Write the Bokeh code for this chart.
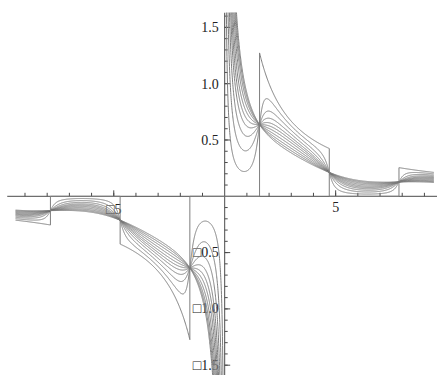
import numpy as np
from bokeh.plotting import figure
from bokeh.models import Range1d
from bokeh.embed import file_html
from bokeh.resources import INLINE
from bokeh.core.properties import value

# ---- values ----
# sharpness of each smoothed approximation (sharpest first), matched to the curve minima
sharpness = [5.0, 2.5, 1.67, 1.25, 1.0, 0.8, 0.62, 0.47, 0.35, 0.25]
# jumps of the limit function (pi/2, 3pi/2, 5pi/2) and end of the plotted domain (3pi)
jump_x = [1.5708, 4.7124, 7.8540]
domain_end = 9.4248
limit_factor = 2.0          # the limit is 2/x on the "on" intervals, 0 elsewhere
x_minor_ticks = [-9, -8, -7, -6, -5, -4, -3, -2, -1, 1, 2, 3, 4, 5, 6, 7, 8, 9]
x_major_ticks = [-5, 5]
x_tick_labels = ["\u25a15", "5"]
y_major_ticks = [-1.5, -1.0, -0.5, 0.5, 1.0, 1.5]
y_tick_labels = ["\u25a11.5", "\u25a11.0", "\u25a10.5", "0.5", "1.0", "1.5"]
y_minor_ticks = [k / 10 for k in range(-15, 17) if k != 0]
x_view = (-10.104, 9.590)
y_view = (-1.5915, 1.6323)
x_axis_start = -9.80

CURVE = "#7e7e7e"
AXIS = "#4a4a4a"
FONT = "Liberation Serif"

p = figure(width=437, height=375, output_backend="svg", toolbar_location=None,
           x_axis_type=None, y_axis_type=None,
           x_range=Range1d(*x_view), y_range=Range1d(*y_view),
           min_border_left=0, min_border_right=0, min_border_bottom=0, min_border_top=12)
p.grid.visible = False
p.outline_line_color = None
p.background_fill_color = "white"
p.border_fill_color = "white"

xs_px = 22.19   # px per x unit
ys_px = 112.6   # px per y unit

# ---- axes (drawn first, beneath the curves) ----
p.line([x_axis_start, x_view[1]], [0, 0], line_color=AXIS, line_width=1)
p.line([0, 0], [y_view[0], y_view[1]], line_color=AXIS, line_width=1)
p.segment(x0=x_minor_ticks, y0=[0] * len(x_minor_ticks), x1=x_minor_ticks,
          y1=[3.5 / ys_px] * len(x_minor_ticks), line_color=AXIS, line_width=1)
p.segment(x0=x_major_ticks, y0=[0] * 2, x1=x_major_ticks, y1=[6 / ys_px] * 2,
          line_color=AXIS, line_width=1)
p.segment(x0=[0] * len(y_minor_ticks), y0=y_minor_ticks, x1=[3 / xs_px] * len(y_minor_ticks),
          y1=y_minor_ticks, line_color=AXIS, line_width=1)
p.segment(x0=[0] * len(y_major_ticks), y0=y_major_ticks, x1=[5.5 / xs_px] * len(y_major_ticks),
          y1=y_major_ticks, line_color=AXIS, line_width=1)
p.text(x=x_major_ticks, y=[0, 0], text=x_tick_labels, text_align="center",
       text_baseline="top", y_offset=6, text_font=value(FONT), text_font_size="14px",
       text_color="#222222")
p.text(x=[0] * len(y_major_ticks), y=y_major_ticks, text=y_tick_labels, text_align="right",
       text_baseline="middle", x_offset=-6, text_font=value(FONT), text_font_size="14px",
       text_color="#222222")

# ---- smoothed approximations ----
xn = np.linspace(-domain_end, -1e-3, 1500)
xp = np.linspace(1e-3, domain_end, 1500)
xx = np.concatenate([xn, [np.nan], xp])
for a in sharpness:
    yy = (1 - (2 / np.pi) * np.arctan(a * np.cos(xx))) / xx
    p.line(xx, yy, line_color=CURVE, line_width=1)

# ---- limit function ----
j1, j2, j3 = jump_x
seg1 = np.linspace(j1, j2, 200)
seg2 = np.linspace(j3, domain_end, 80)
lx = np.concatenate([[0.0, j1], seg1, [j2, j3], seg2])
ly = np.concatenate([[0.0, 0.0], limit_factor / seg1, [0.0, 0.0], limit_factor / seg2])
full_x = np.concatenate([-lx[::-1], lx])
full_y = np.concatenate([-ly[::-1], ly])
p.line(full_x, full_y, line_color=CURVE, line_width=1)

open("out.html", "w").write(file_html(p, INLINE))
